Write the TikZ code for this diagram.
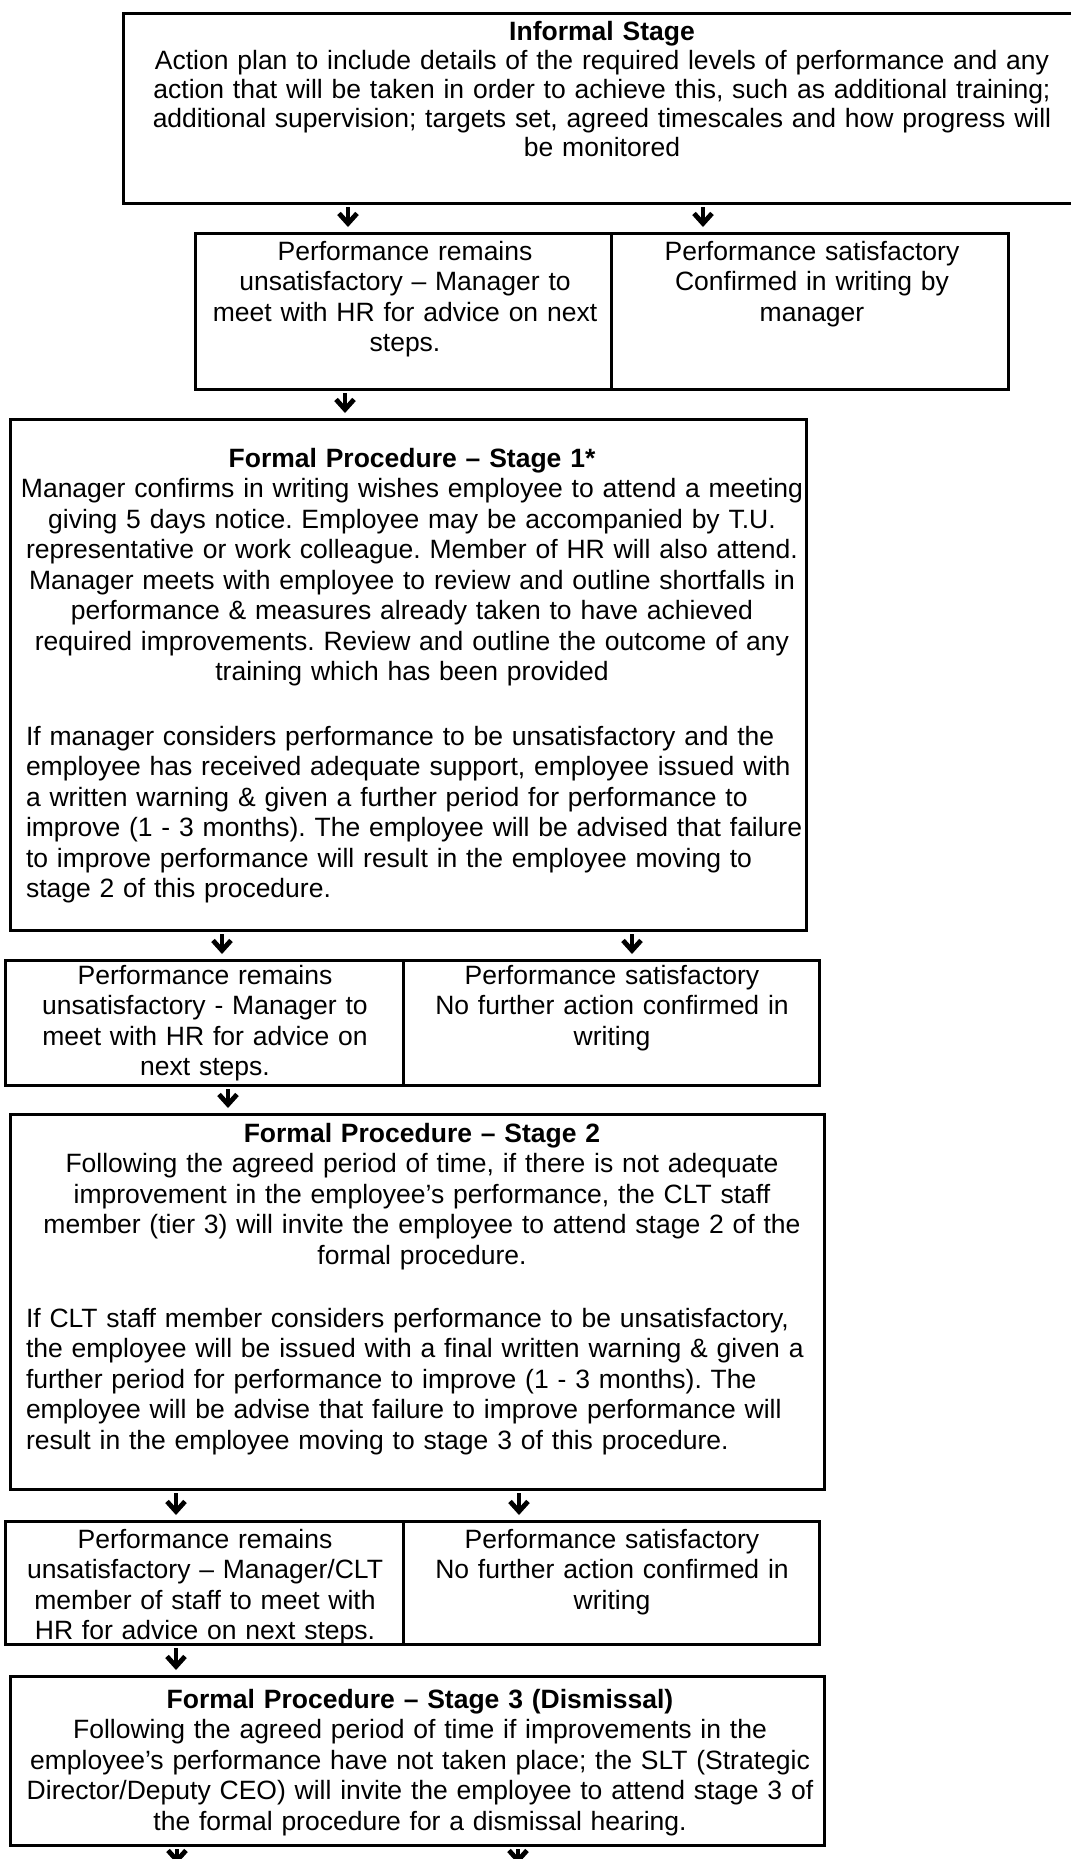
\documentclass[tikz,border=0pt]{standalone}
\usepackage{fontspec}
\setmainfont{Liberation Sans}
\usetikzlibrary{arrows.meta,fit}
\begin{document}
\begin{tikzpicture}[x=0.5pt,y=-0.5pt,
  box/.style={draw, line width=1.5pt, inner sep=0pt, outer sep=0pt},
  txt/.style={inner sep=0pt, outer sep=0pt, align=center, font=\fontsize{13.25}{15.25}\selectfont\frenchspacing},
  ltxt/.style={txt, align=left},
  arr/.style={line width=2.4pt, -{Straight Barb[length=5pt,width=9pt]}, shorten <=2pt, shorten >=3pt}]
\useasboundingbox (0,0) rectangle (1071,1859);
\fill[white] (0,0) rectangle (1071,1859);
\clip (0,0) rectangle (1071,1859);

% boxes
\node[box, fit={(123,13) (1081,203)}] (inf) {};
\node[box, fit={(195,233) (611,389)}] (r1l) {};
\node[box, fit={(611,233) (1008,389)}] (r1r) {};
\node[box, fit={(10,419) (806,930)}] (st1) {};
\node[box, fit={(5,960) (403,1085)}] (r2l) {};
\node[box, fit={(403,960) (819,1085)}] (r2r) {};
\node[box, fit={(10,1114) (824,1489)}] (st2) {};
\node[box, fit={(5,1521) (403,1644)}] (r3l) {};
\node[box, fit={(403,1521) (819,1644)}] (r3r) {};
\node[box, fit={(10,1676) (824,1845)}] (st3) {};

% texts
\node[txt, text width=470pt, font=\fontsize{13.25}{14.5}\selectfont\frenchspacing, anchor=base] (inft) at (602,40)
 {\textbf{Informal Stage}\\
  Action plan to include details of the required levels of performance and any\\
  action that will be taken in order to achieve this, such as additional training;\\
  additional supervision; targets set, agreed timescales and how progress will\\
  be monitored};
\node[txt, text width=205pt, anchor=base] (r1lt) at (405,260)
 {Performance remains\\ unsatisfactory – Manager to\\ meet with HR for advice on next\\ steps.};
\node[txt, text width=195pt, anchor=base] (r1rt) at (812,260)
 {Performance satisfactory\\ Confirmed in writing by\\ manager};
\node[txt, text width=400pt, anchor=base] (st1t) at (412,467)
 {\textbf{Formal Procedure – Stage 1*}\\
  Manager confirms in writing wishes employee to attend a meeting\\
  giving 5 days notice. Employee may be accompanied by T.U.\\
  representative or work colleague. Member of HR will also attend.\\
  Manager meets with employee to review and outline shortfalls in\\
  performance \& measures already taken to have achieved\\
  required improvements. Review and outline the outcome of any\\
  training which has been provided};
\node[ltxt, text width=395pt, anchor=base west] (st1p) at (26,745)
 {If manager considers performance to be unsatisfactory and the\\
  employee has received adequate support, employee issued with\\
  a written warning \& given a further period for performance to\\
  improve (1 - 3 months). The employee will be advised that failure\\
  to improve performance will result in the employee moving to\\
  stage 2 of this procedure.};
\node[txt, text width=198pt, anchor=base] (r2lt) at (205,984)
 {Performance remains\\ unsatisfactory - Manager to\\ meet with HR for advice on\\ next steps.};
\node[txt, text width=205pt, anchor=base] (r2rt) at (612,984)
 {Performance satisfactory\\ No further action confirmed in\\ writing};
\node[txt, text width=405pt, anchor=base] (st2t) at (422,1142)
 {\textbf{Formal Procedure – Stage 2}\\
  Following the agreed period of time, if there is not adequate\\
  improvement in the employee’s performance, the CLT staff\\
  member (tier 3) will invite the employee to attend stage 2 of the\\
  formal procedure.};
\node[ltxt, text width=400pt, anchor=base west] (st2p) at (26,1327)
 {If CLT staff member considers performance to be unsatisfactory,\\
  the employee will be issued with a final written warning \& given a\\
  further period for performance to improve (1 - 3 months). The\\
  employee will be advise that failure to improve performance will\\
  result in the employee moving to stage 3 of this procedure.};
\node[txt, text width=198pt, anchor=base] (r3lt) at (205,1548)
 {Performance remains\\ unsatisfactory – Manager/CLT\\ member of staff to meet with\\ HR for advice on next steps.};
\node[txt, text width=205pt, anchor=base] (r3rt) at (612,1548)
 {Performance satisfactory\\ No further action confirmed in\\ writing};
\node[txt, text width=405pt, anchor=base] (st3t) at (420,1708)
 {\textbf{Formal Procedure – Stage 3 (Dismissal)}\\
  Following the agreed period of time if improvements in the\\
  employee’s performance have not taken place; the SLT (Strategic\\
  Director/Deputy CEO) will invite the employee to attend stage 3 of\\
  the formal procedure for a dismissal hearing.};

% arrow columns
\coordinate (xa) at (348,0);
\coordinate (xb) at (703,0);
\coordinate (xc) at (345,0);
\coordinate (xd) at (222,0);
\coordinate (xe) at (632,0);
\coordinate (xf) at (228,0);
\coordinate (xg) at (176,0);
\coordinate (xh) at (519,0);
\coordinate (e1) at (177,1870);
\coordinate (e2) at (518,1870);

\draw[arr] (inf.south -| xa) -- (r1l.north -| xa);
\draw[arr] (inf.south -| xb) -- (r1r.north -| xb);
\draw[arr] (r1l.south -| xc) -- (st1.north -| xc);
\draw[arr] (st1.south -| xd) -- (r2l.north -| xd);
\draw[arr] (st1.south -| xe) -- (r2r.north -| xe);
\draw[arr] (r2l.south -| xf) -- (st2.north -| xf);
\draw[arr] (st2.south -| xg) -- (r3l.north -| xg);
\draw[arr] (st2.south -| xh) -- (r3r.north -| xh);
\draw[arr] (r3l.south -| xg) -- (st3.north -| xg);
\draw[arr] (st3.south -| e1) -- (e1);
\draw[arr] (st3.south -| e2) -- (e2);
\end{tikzpicture}
\end{document}
